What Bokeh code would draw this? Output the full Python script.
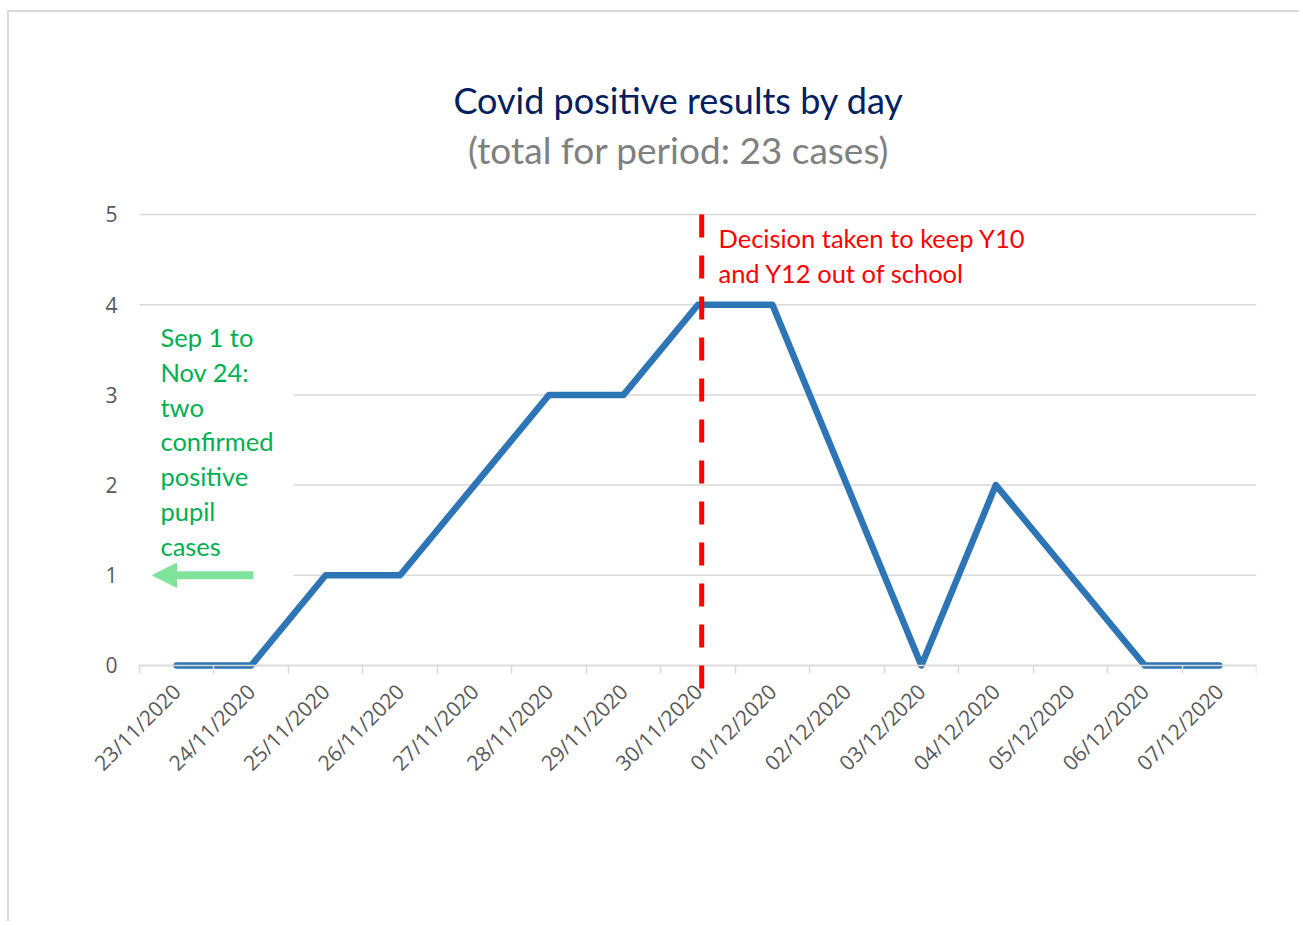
from math import pi
from bokeh.plotting import figure
from bokeh.models import Range1d, FixedTicker, Label, Arrow, NormalHead, BoxAnnotation
from bokeh.embed import file_html
from bokeh.resources import INLINE

# ---------------- data ----------------
dates = ["23/11/2020", "24/11/2020", "25/11/2020", "26/11/2020", "27/11/2020",
         "28/11/2020", "29/11/2020", "30/11/2020", "01/12/2020", "02/12/2020",
         "03/12/2020", "04/12/2020", "05/12/2020", "06/12/2020", "07/12/2020"]
cases = [0, 0, 1, 1, 2, 3, 3, 4, 4, 2, 0, 2, 1, 0, 0]
y_ticks = [0, 1, 2, 3, 4, 5]

title_text = "Covid positive results by day"
subtitle_text = "(total for period: 23 cases)"
decision_date = "30/11/2020"
decision_text = "Decision taken to keep Y10\nand Y12 out of school"
note_text = "Sep 1 to\nNov 24:\ntwo\nconfirmed\npositive\npupil\ncases"

# ---------------- figure ----------------
n = len(dates)
centers = [i + 0.5 for i in range(n)]

p = figure(width=1292, height=911,
           x_range=Range1d(-0.805, n), y_range=Range1d(-1.386, 7.2395),
           output_backend="svg", toolbar_location=None,
           min_border_left=70, min_border_right=45,
           min_border_top=0, min_border_bottom=133,
           background_fill_color="white", border_fill_color="white",
           outline_line_color=None,
           styles={"border-top": "2px solid #d9d9d9", "border-left": "2px solid #d9d9d9",
                   "margin-left": "7px", "margin-top": "10px"})

# horizontal gridlines over the category span only
p.xgrid.visible = False
p.ygrid.visible = False
p.segment(x0=0, x1=n, y0=y_ticks, y1=y_ticks, line_color="#d9d9d9", line_width=1.5)

# y axis (drawn at x = 0)
p.yaxis.fixed_location = 0
p.yaxis.ticker = FixedTicker(ticks=y_ticks)
p.yaxis.axis_line_color = None
p.yaxis.major_tick_line_color = None
p.yaxis.minor_tick_line_color = None
p.yaxis.major_tick_out = 0
p.yaxis.major_tick_in = 0
p.yaxis.major_label_standoff = 22
p.yaxis.major_label_text_font = "Open Sans"
p.yaxis.major_label_text_font_size = "21px"
p.yaxis.major_label_text_color = "#595959"

# x axis (drawn at y = 0)
p.xaxis.fixed_location = 0
p.xaxis.bounds = (0, n)
p.xaxis.ticker = FixedTicker(ticks=centers, minor_ticks=list(range(n + 1)))
p.xaxis.major_label_overrides = {c: d for c, d in zip(centers, dates)}
p.xaxis.major_tick_line_color = None
p.xaxis.major_tick_out = 0
p.xaxis.major_tick_in = 0
p.xaxis.minor_tick_line_color = "#d9d9d9"
p.xaxis.minor_tick_line_width = 1.5
p.xaxis.minor_tick_in = 0
p.xaxis.minor_tick_out = 8
p.xaxis.axis_line_color = "#d9d9d9"
p.xaxis.axis_line_width = 1.5
p.xaxis.major_label_orientation = pi / 4
p.xaxis.major_label_standoff = 14
p.xaxis.major_label_text_font = "Open Sans"
p.xaxis.major_label_text_font_size = "21px"
p.xaxis.major_label_text_color = "#595959"

# white box behind the note (interrupts gridlines)
p.add_layout(BoxAnnotation(left=0, right=2.07, bottom=0.85, top=3.8,
                           fill_color="white", fill_alpha=1.0, line_color=None))

# main line
p.line(centers, cases, line_color="#2e75b6", line_width=6.5,
       line_join="round", line_cap="round")

# decision dashed line
dx = dates.index(decision_date) + 0.55
p.add_layout(Arrow(x_start=dx, y_start=5, x_end=dx, y_end=-0.27, end=None,
                   line_color="#ff0000", line_width=5, line_dash="23 18"))
p.add_layout(Label(x=dx + 0.225, y=4.906, text=decision_text,
                   text_font="Lato", text_font_size="25.5px", text_color="#ff0000",
                   text_align="left", text_baseline="top", text_line_height=1.16))

# green note + arrow
p.add_layout(Label(x=0.282, y=3.808, text=note_text,
                   text_font="Lato", text_font_size="25.5px", text_color="#00b050",
                   text_align="left", text_baseline="top", text_line_height=1.16))
p.add_layout(Arrow(x_start=1.53, y_start=1, x_end=0.175, y_end=1,
                   line_color="#80e39c", line_width=8,
                   end=NormalHead(size=24, fill_color="#80e39c", line_color="#80e39c")))

# titles
p.add_layout(Label(x=7.24, y=6.264, text=title_text,
                   text_font="Lato", text_font_size="36px", text_color="#002060",
                   text_align="center", text_baseline="alphabetic"))
p.add_layout(Label(x=7.24, y=5.72, text=subtitle_text,
                   text_font="Lato", text_font_size="37px", text_color="#808080",
                   text_align="center", text_baseline="alphabetic"))

open("out.html", "w").write(file_html(p, INLINE))
